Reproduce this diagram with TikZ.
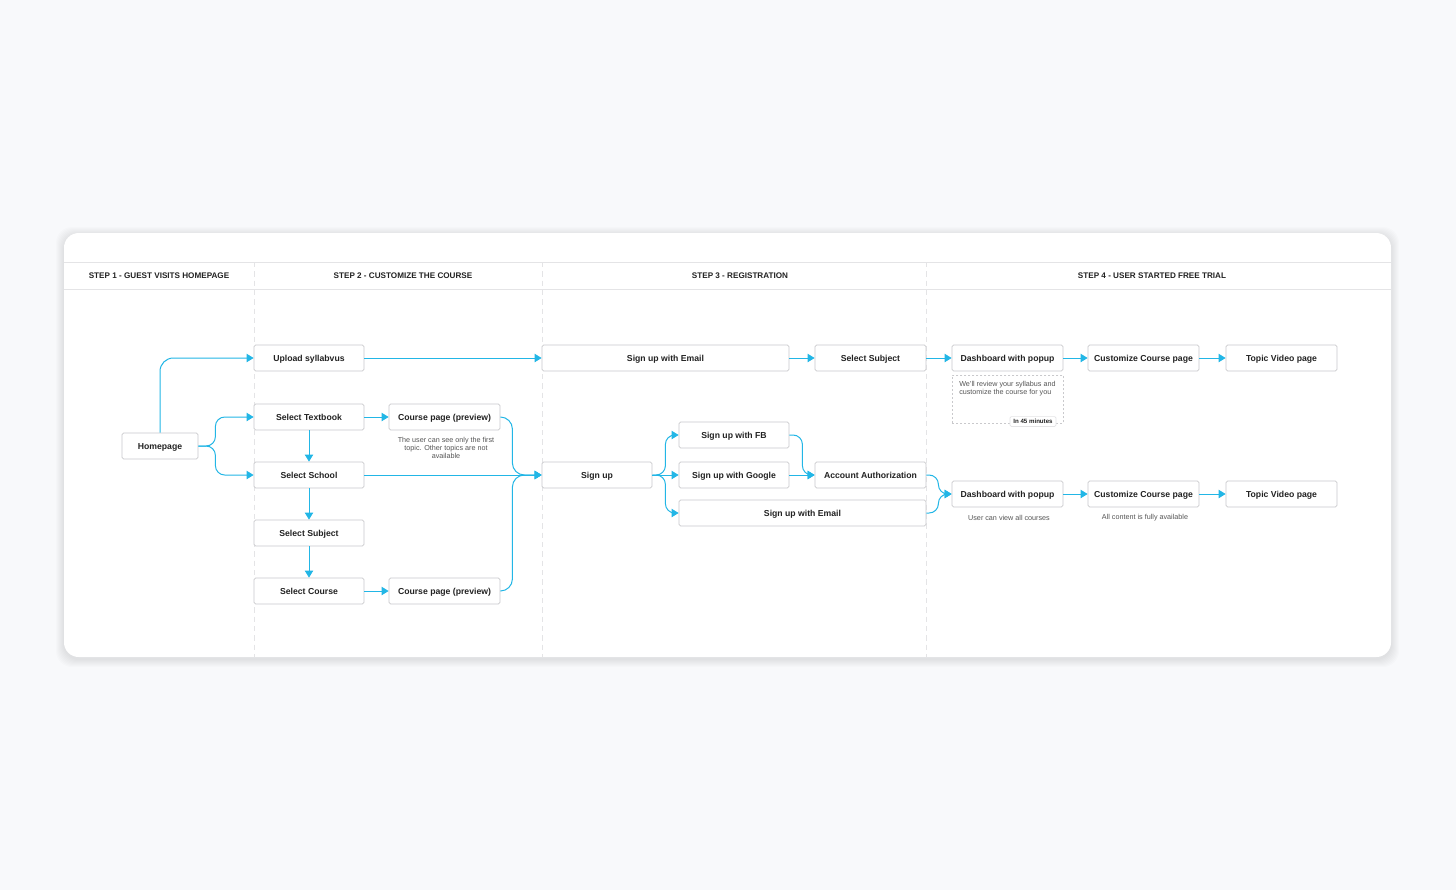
\documentclass[tikz,border=0pt]{standalone}
\usepackage{fontspec}
\setmainfont{Liberation Sans}
\usetikzlibrary{arrows.meta}
\definecolor{bg}{HTML}{F8F9FB}
\definecolor{cyanln}{HTML}{22B6E6}
\definecolor{boxln}{HTML}{C9C9CC}
\definecolor{txt}{HTML}{222222}
\definecolor{sepln}{HTML}{E4E4E6}
\definecolor{notetxt}{HTML}{555555}
\begin{document}
\begin{tikzpicture}[x=0.75pt,y=-0.75pt,
 box/.style={draw=boxln, line width=0.6pt, fill=white, rounded corners=1.2pt, minimum height=19.5pt, minimum width=82.5pt, inner sep=0pt, text height=4.7pt, text depth=0pt, font=\fontsize{6.5}{7}\selectfont\bfseries, text=txt},
 conn/.style={draw=cyanln, line width=0.75pt, -{Triangle[length=5.2pt,width=6.2pt]}},
 hdr/.style={font=\fontsize{6.1}{7}\selectfont\bfseries, text=txt},
 note/.style={font=\fontsize{5.4}{6}\selectfont, text=notetxt, align=center}]
\useasboundingbox (0,0) rectangle (1456,890);
\fill[bg] (0,0) rectangle (1456,890);
% card shadow
\foreach \i in {1,...,8}{
  \fill[black, opacity=0.01, rounded corners=12pt] (64-\i,233-\i+2) rectangle (1391+\i,657+\i+2);
}
\fill[white, rounded corners=11pt] (64,233) rectangle (1391,657);
% header lines
\draw[sepln, line width=0.75pt] (64,262) -- (1391,262);
\draw[sepln, line width=0.75pt] (64,289) -- (1391,289);
\foreach \xx in {254,542,926}{
  \draw[sepln, line width=0.75pt, dash pattern=on 4pt off 3pt] (\xx,262) -- (\xx,657);
}
% headers
\node[hdr] (h1) at (159,275.5) {STEP 1 - GUEST VISITS HOMEPAGE};
\node[hdr] (h2) at (403,275.5) {STEP 2 - CUSTOMIZE THE COURSE};
\node[hdr] (h3) at (740,275.5) {STEP 3 - REGISTRATION};
\node[hdr] (h4) at (1152,275.5) {STEP 4 - USER STARTED FREE TRIAL};
% nodes
\node[box, minimum width=57pt] (home) at (160,446) {Homepage};
\node[box] (upload) at (309,358) {Upload syllabvus};
\node[box] (textbook) at (309,417) {Select Textbook};
\node[box, minimum width=83.25pt] (cp1) at (444.5,417) {Course page (preview)};
\node[note] (cp1note) at (446,448) {The user can see only the first\\topic. Other topics are not\\available};
\node[box] (school) at (309,475) {Select School};
\node[box] (subj2) at (309,533) {Select Subject};
\node[box] (course) at (309,591) {Select Course};
\node[box, minimum width=83.25pt] (cp2) at (444.5,591) {Course page (preview)};
\node[box, minimum width=185.25pt] (emailtop) at (665.5,358) {Sign up with Email};
\node[box, minimum width=83.25pt] (subj3) at (870.5,358) {Select Subject};
\node[box] (signup) at (597,475) {Sign up};
\node[box] (fb) at (734,435) {Sign up with FB};
\node[box] (google) at (734,475) {Sign up with Google};
\node[box, minimum width=185.25pt] (emaillow) at (802.5,513) {Sign up with Email};
\node[box, minimum width=83.25pt] (auth) at (870.5,475) {Account Authorization};
\node[box, minimum width=83.25pt] (dash1) at (1007.5,358) {Dashboard with popup};
\node[box, minimum width=83.25pt] (cust1) at (1143.5,358) {Customize Course page};
\node[box, minimum width=83.25pt] (topic1) at (1281.5,358) {Topic Video page};
\node[box, minimum width=83.25pt] (dash2) at (1007.5,494) {Dashboard with popup};
\node[box, minimum width=83.25pt] (cust2) at (1143.5,494) {Customize Course page};
\node[box, minimum width=83.25pt] (topic2) at (1281.5,494) {Topic Video page};
\node[note] (dash2note) at (1009,518) {User can view all courses};
\node[note] (cust2note) at (1145,518) {All content is fully available};
% popup note
\node[draw=boxln, line width=0.6pt, dash pattern=on 1.5pt off 1.5pt, minimum width=83.25pt, minimum height=36pt, inner sep=0pt, anchor=north west] (popup) at (952,375) {};
\node[note, align=left, anchor=north west, inner sep=0pt] (popuptext) at (959,381) {We'll review your syllabus and\\customize the course for you};
\node[draw=sepln, fill=white, line width=0.5pt, rounded corners=1pt, inner xsep=2.6pt, inner ysep=2pt, font=\fontsize{4.6}{5}\selectfont\bfseries, text=txt] (timetag) at (1033,421.5) {In 45 minutes};
% connectors
\draw[conn, rounded corners=10pt] (home.north) |- (upload.west);
\draw[conn, rounded corners=7pt] (home.east) -- ++(17,0) |- (textbook.west);
\draw[conn, rounded corners=7pt] (home.east) -- ++(17,0) |- (school.west);
\draw[conn] (upload.east) -- (emailtop.west);
\draw[conn] (textbook.east) -- (cp1.west);
\draw[conn] (textbook.south) -- (school.north);
\draw[conn] (school.south) -- (subj2.north);
\draw[conn] (subj2.south) -- (course.north);
\draw[conn] (course.east) -- (cp2.west);
\draw[conn] (school.east) -- (signup.west);
\draw[conn, rounded corners=9pt] (cp1.east) -- ++(12,0) |- (signup.west);
\draw[conn, rounded corners=9pt] (cp2.east) -- ++(12,0) |- (signup.west);
\draw[conn, rounded corners=7pt] (signup.east) -- ++(13,0) |- (fb.west);
\draw[conn] (signup.east) -- (google.west);
\draw[conn, rounded corners=7pt] (signup.east) -- ++(13,0) |- (emaillow.west);
\draw[conn] (emailtop.east) -- (subj3.west);
\draw[conn] (subj3.east) -- (dash1.west);
\draw[conn] (dash1.east) -- (cust1.west);
\draw[conn] (cust1.east) -- (topic1.west);
\draw[conn, rounded corners=7pt] (fb.east) -- ++(13,0) |- (auth.west);
\draw[conn] (google.east) -- (auth.west);
\draw[conn, rounded corners=7pt] (auth.east) -- ++(12,0) |- (dash2.west);
\draw[conn, rounded corners=7pt] (emaillow.east) -- ++(12,0) |- (dash2.west);
\draw[conn] (dash2.east) -- (cust2.west);
\draw[conn] (cust2.east) -- (topic2.west);
\end{tikzpicture}
\end{document}
